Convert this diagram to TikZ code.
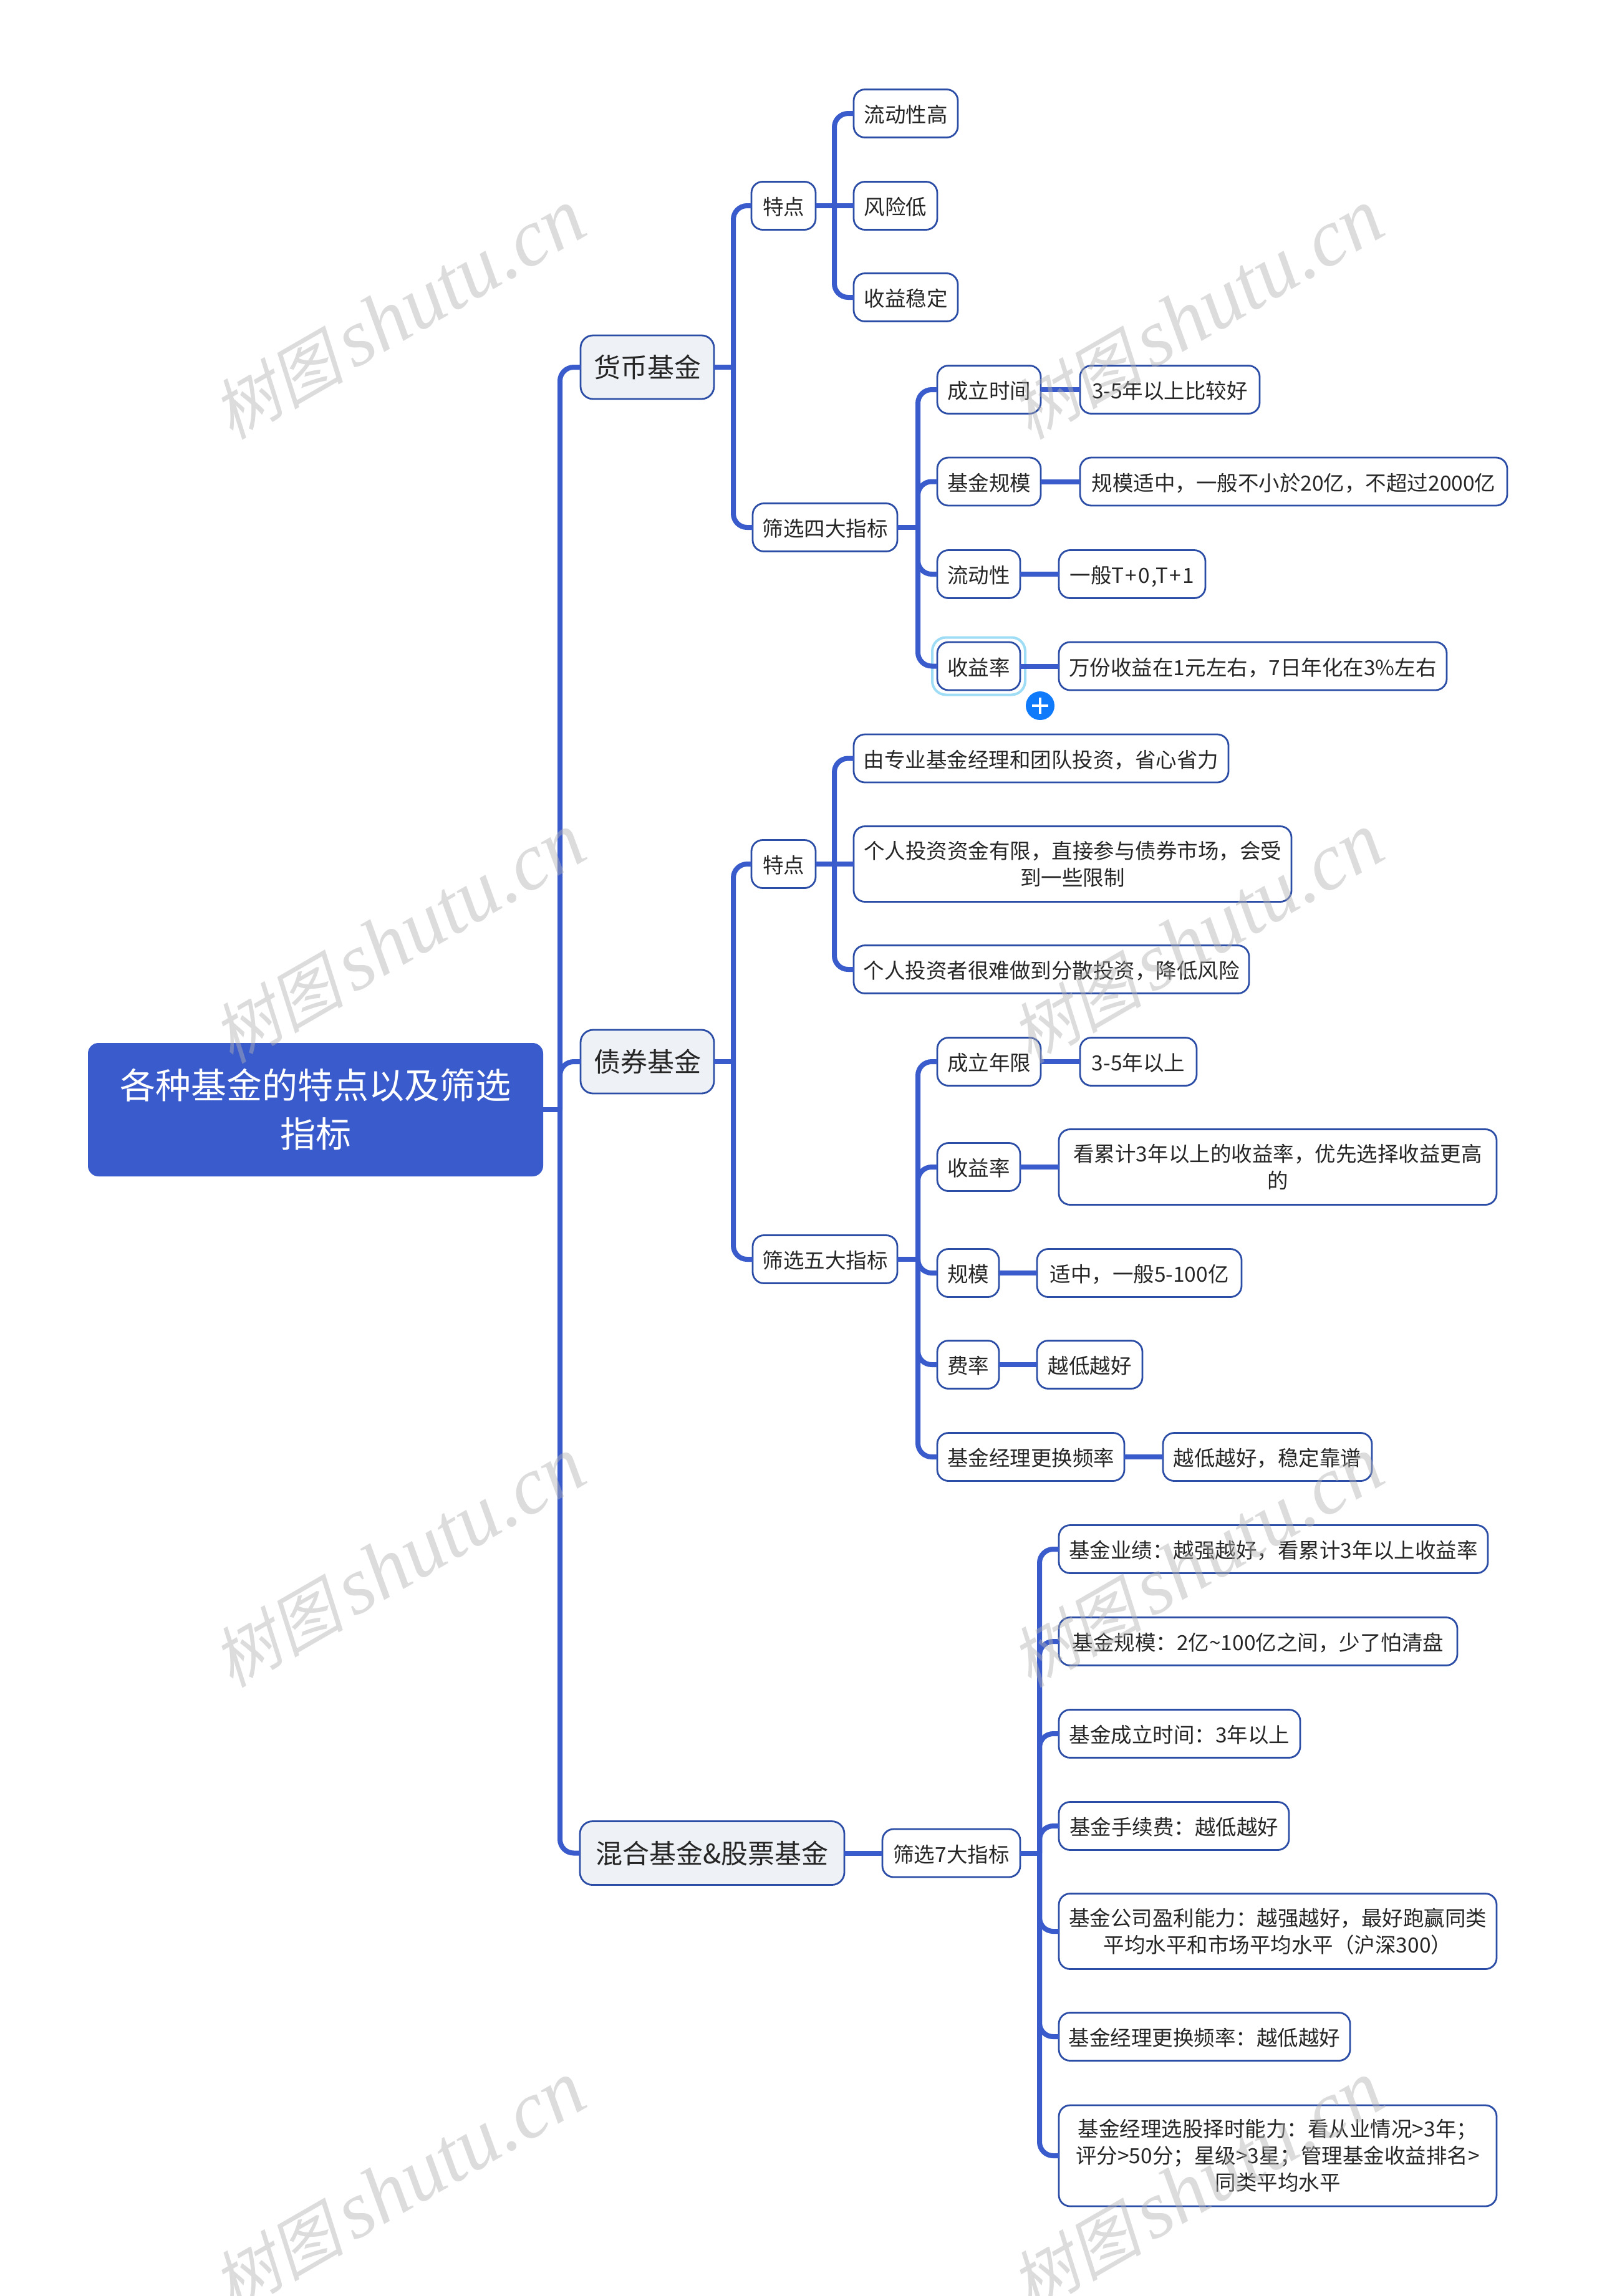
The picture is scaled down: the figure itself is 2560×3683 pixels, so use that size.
\documentclass[tikz,border=0pt]{standalone}
\usepackage{fontspec}
\setmainfont{Noto Sans CJK SC}
\newfontfamily\wmcjk[FakeSlant=0.22]{Noto Sans CJK SC}
\newfontfamily\wmlat{Liberation Serif}[ItalicFont={Liberation Serif Italic}]
\definecolor{linkc}{HTML}{3A5BCB}
\definecolor{edgec}{HTML}{2C4DA6}
\definecolor{inkc}{HTML}{262626}
\definecolor{lvlc}{HTML}{EEF1F5}
\definecolor{glowc}{HTML}{9FDDF6}
\definecolor{plusc}{HTML}{0F7BFB}
\tikzset{
  x=0.5pt,y=-0.5pt,
  boxbase/.style={rectangle,rounded corners=9pt,draw=edgec,line width=1.4pt,inner sep=0pt,outer sep=0pt,text=inkc,align=center},
  multi/.style={boxbase,fill=white,font=\fontsize{16.75}{21.5}\selectfont},
  leaf/.style={multi,minimum height=38.5pt,text height=15.5pt,text depth=1pt},
  lvlone/.style={boxbase,fill=lvlc,rounded corners=10pt,minimum height=51pt,font=\fontsize{21.5}{27}\selectfont},
  rootbox/.style={rectangle,rounded corners=8pt,fill=linkc,draw=linkc,line width=1pt,inner sep=0pt,outer sep=0pt,text=white,align=center,minimum height=106pt,font=\fontsize{28.5}{39}\selectfont},
  conn/.style={draw=linkc,line width=4pt,rounded corners=11pt},
  stem/.style={draw=linkc,line width=4pt},
  watermark/.style={text=gray!60,opacity=0.45,rotate=30,inner sep=0pt}
}
\newcommand\bx[6][leaf]{\node[#1,minimum width={(#4-#3)*0.5pt}] (#2) at ({(#3+#4)/2},#5) {#6};}
\newcommand\kid[2]{\draw[conn] (#1) |- (#2.west);}
\newcommand\wm[3]{\node[watermark] (#1) at (#2,#3) {{\fontsize{53}{53}\selectfont\wmcjk 树图}\hspace{8pt}{\fontsize{65}{65}\selectfont\wmlat\itshape shutu.cn}};}
\begin{document}
\begin{tikzpicture}
\path[use as bounding box,fill=white] (0,0) rectangle (2560,3683);
% root and level one
\bx[rootbox]{root}{142}{870}{1780}{各种基金的特点以及筛选\\指标}
\bx[lvlone]{a}{931}{1145}{589}{货币基金}
\bx[lvlone]{b}{931}{1145}{1703}{债券基金}
\bx[lvlone]{c}{930}{1354}{2972.5}{混合基金\&股票基金}
% section a
\bx{at}{1205}{1308}{330}{特点}
\bx{at1}{1369}{1536}{182}{流动性高}
\bx{at2}{1369}{1503}{330}{风险低}
\bx{at3}{1369}{1536}{477}{收益稳定}
\bx{as}{1207}{1439}{846}{筛选四大指标}
\bx{as1}{1503}{1669}{625}{成立时间}
\bx{as2}{1503}{1669}{772.5}{基金规模}
\bx{as3}{1503}{1636}{921}{流动性}
\bx{as4}{1503}{1636}{1068.5}{收益率}
\bx{as1x}{1732}{2020}{625}{3-5年以上比较好}
\bx{as2x}{1732}{2417}{772.5}{规模适中，一般不小於20亿，不超过2000亿}
\bx{as3x}{1698}{1933}{921}{一般{\addfontfeature{LetterSpace=6}T+0,T+1}}
\bx{as4x}{1698}{2320}{1068.5}{万份收益在1元左右，7日年化在3\%左右}
\node[rectangle,rounded corners=11pt,draw=glowc,line width=2pt,minimum width=149*0.5pt,minimum height=92*0.5pt,inner sep=0pt] (glow) at (as4) {};
\node[circle,fill=plusc,minimum size=23pt,inner sep=0pt] (plus) at (1668,1132) {};
\draw[white,line width=2.2pt] ([xshift=-6.5pt]plus.center) -- ([xshift=6.5pt]plus.center);
\draw[white,line width=2.2pt] ([yshift=-6.5pt]plus.center) -- ([yshift=6.5pt]plus.center);
% section b
\bx{bt}{1205}{1308}{1386}{特点}
\bx{bt1}{1369}{1970}{1216.5}{由专业基金经理和团队投资，省心省力}
\bx[multi,minimum height=60.5pt]{bt2}{1369}{2071}{1386}{个人投资资金有限，直接参与债券市场，会受\\到一些限制}
\bx{bt3}{1369}{2003}{1555}{个人投资者很难做到分散投资，降低风险}
\bx{bs}{1207}{1439}{2020}{筛选五大指标}
\bx{bs1}{1503}{1669}{1703}{成立年限}
\bx{bs2}{1503}{1636}{1872}{收益率}
\bx{bs3}{1503}{1602}{2042}{规模}
\bx{bs4}{1503}{1602}{2189}{费率}
\bx{bs5}{1503}{1803}{2337}{基金经理更换频率}
\bx{bs1x}{1732}{1919}{1703}{3-5年以上}
\bx[multi,minimum height=60.5pt]{bs2x}{1698}{2400}{1872}{看累计3年以上的收益率，优先选择收益更高\\的}
\bx{bs3x}{1663}{1991}{2042}{适中，一般5-100亿}
\bx{bs4x}{1663}{1832}{2189}{越低越好}
\bx{bs5x}{1865}{2200}{2337}{越低越好，稳定靠谱}
% section c
\bx{cs}{1415}{1636}{2972.5}{筛选7大指标}
\bx{c1}{1698}{2386}{2485}{基金业绩：越强越好，看累计3年以上收益率}
\bx{c2}{1698}{2337}{2633}{基金规模：2亿\textasciitilde100亿之间，少了怕清盘}
\bx{c3}{1698}{2085}{2781}{基金成立时间：3年以上}
\bx{c4}{1698}{2067}{2929}{基金手续费：越低越好}
\bx[multi,minimum height=60.5pt]{c5}{1698}{2400}{3098}{基金公司盈利能力：越强越好，最好跑赢同类\\平均水平和市场平均水平（沪深300）}
\bx{c6}{1698}{2165}{3267}{基金经理更换频率：越低越好}
\bx[multi,minimum height=81pt]{c7}{1698}{2400}{3458}{基金经理选股择时能力：看从业情况>3年；\\评分>50分；星级>3星；管理基金收益排名>\\同类平均水平}
% trunk points
\coordinate (t0) at (898,1780);
\coordinate (ta) at (1176,589);
\coordinate (tat) at (1338,330);
\coordinate (tas) at (1472,846);
\coordinate (tb) at (1176,1703);
\coordinate (tbt) at (1338,1386);
\coordinate (tbs) at (1472,2020);
\coordinate (tc) at (1667,2972.5);
% connectors
\draw[stem] (root.east) -- (t0);
\kid{t0}{a}\kid{t0}{b}\kid{t0}{c}
\draw[stem] (a.east) -- (ta);
\kid{ta}{at}\kid{ta}{as}
\draw[stem] (at.east) -- (at2.west);
\kid{tat}{at1}\kid{tat}{at3}
\draw[stem] (as.east) -- (tas);
\kid{tas}{as1}\kid{tas}{as2}\kid{tas}{as3}\kid{tas}{as4}
\draw[stem] (as1.east) -- (as1x.west);
\draw[stem] (as2.east) -- (as2x.west);
\draw[stem] (as3.east) -- (as3x.west);
\draw[stem] (as4.east) -- (as4x.west);
\draw[stem] (b.east) -- (tb);
\kid{tb}{bt}\kid{tb}{bs}
\draw[stem] (bt.east) -- (bt2.west);
\kid{tbt}{bt1}\kid{tbt}{bt3}
\draw[stem] (bs.east) -- (tbs);
\kid{tbs}{bs1}\kid{tbs}{bs2}\kid{tbs}{bs3}\kid{tbs}{bs4}\kid{tbs}{bs5}
\draw[stem] (bs1.east) -- (bs1x.west);
\draw[stem] (bs2.east) -- (bs2x.west);
\draw[stem] (bs3.east) -- (bs3x.west);
\draw[stem] (bs4.east) -- (bs4x.west);
\draw[stem] (bs5.east) -- (bs5x.west);
\draw[stem] (c.east) -- (cs.west);
\draw[stem] (cs.east) -- (tc);
\kid{tc}{c1}\kid{tc}{c2}\kid{tc}{c3}\kid{tc}{c4}\kid{tc}{c5}\kid{tc}{c6}\kid{tc}{c7}
% watermarks
\wm{w1}{639}{505}\wm{w2}{1919}{505}
\wm{w3}{639}{1506}\wm{w4}{1919}{1506}
\wm{w5}{639}{2507}\wm{w6}{1919}{2507}
\wm{w7}{639}{3508}\wm{w8}{1919}{3508}
\end{tikzpicture}
\end{document}
